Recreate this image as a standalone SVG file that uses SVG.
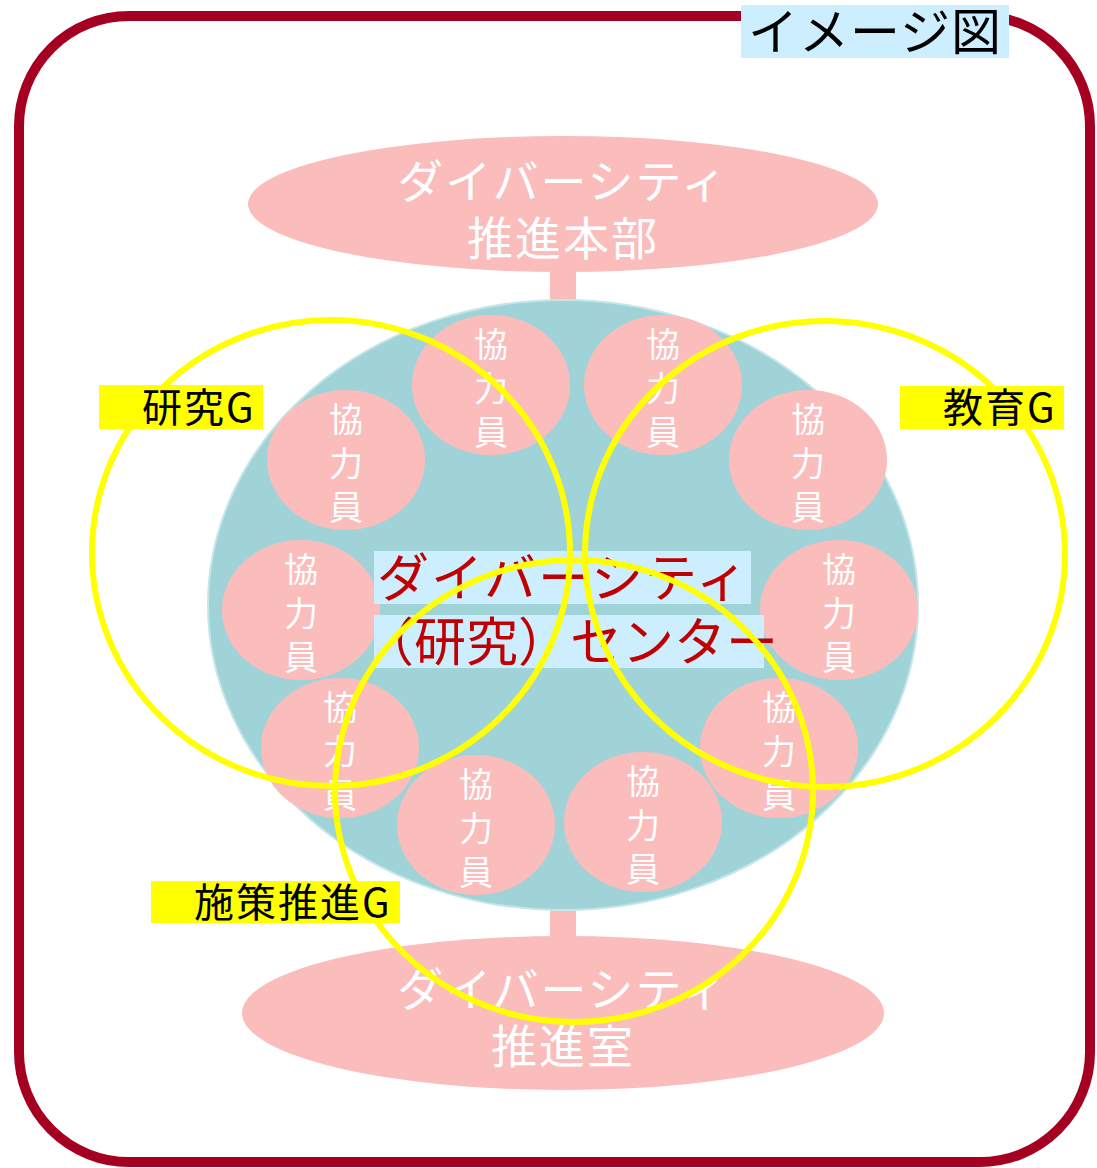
<svg xmlns="http://www.w3.org/2000/svg" width="1097" height="1168" viewBox="0 0 1097 1168">
<style>
.jp{font-family:"Noto Sans CJK JP","Noto Sans",sans-serif}
.pink{fill:#fbbcbc}
.mem{fill:#fbbcbc}
.memt{fill:#ffffff;font-size:34px;text-anchor:middle}
.ytext{fill:#000;font-size:40px;letter-spacing:2px}
.ycirc{fill:none;stroke:#ffff00;stroke-width:6}
.head{fill:#ffffff;font-size:46px;text-anchor:middle;letter-spacing:2px}
.red{fill:#c00000;font-size:52px}
</style>
<rect x="0" y="0" width="1097" height="1168" fill="#ffffff"/>
<g id="frame">
<rect x="19" y="16" width="1071" height="1146" rx="110" ry="110" fill="none" stroke="#a50021" stroke-width="10"/>
</g>
<g id="title">
<rect x="741" y="5" width="268" height="53" fill="#cceeff"/>
<text class="jp" x="875" y="50" font-size="50" letter-spacing="1" text-anchor="middle" fill="#000">イメージ図</text>
</g>
<g id="connectors">
<rect x="550" y="268" width="26" height="36" class="pink"/>
<rect x="550" y="906" width="26" height="36" class="pink"/>
</g>
<g id="center">
<ellipse cx="563" cy="605" rx="355" ry="305" fill="#a0d3d8" stroke="#c5e6e9" stroke-width="2"/>
</g>
<g id="honbu">
<ellipse cx="563" cy="204" rx="315" ry="68" class="pink"/>
<text class="jp head"><tspan x="563" y="198">ダイバーシティ</tspan><tspan x="563" y="255">推進本部</tspan></text>
</g>
<g id="suishinshitsu">
<ellipse cx="563" cy="1013" rx="321" ry="77" class="pink"/>
<text class="jp head"><tspan x="563" y="1006">ダイバーシティ</tspan><tspan x="563" y="1063">推進室</tspan></text>
</g>
<g id="members">
<g id="m1"><ellipse cx="491" cy="385" rx="79" ry="70" class="mem"/><text class="jp memt"><tspan x="491" y="357">協</tspan><tspan x="491" y="401">力</tspan><tspan x="491" y="445">員</tspan></text></g>
<g id="m2"><ellipse cx="663" cy="385" rx="79" ry="70" class="mem"/><text class="jp memt"><tspan x="663" y="357">協</tspan><tspan x="663" y="401">力</tspan><tspan x="663" y="445">員</tspan></text></g>
<g id="m3"><ellipse cx="346" cy="460" rx="79" ry="70" class="mem"/><text class="jp memt"><tspan x="346" y="432">協</tspan><tspan x="346" y="476">力</tspan><tspan x="346" y="520">員</tspan></text></g>
<g id="m4"><ellipse cx="808" cy="460" rx="79" ry="70" class="mem"/><text class="jp memt"><tspan x="808" y="432">協</tspan><tspan x="808" y="476">力</tspan><tspan x="808" y="520">員</tspan></text></g>
<g id="m5"><ellipse cx="301" cy="610" rx="79" ry="70" class="mem"/><text class="jp memt"><tspan x="301" y="582">協</tspan><tspan x="301" y="626">力</tspan><tspan x="301" y="670">員</tspan></text></g>
<g id="m6"><ellipse cx="839" cy="610" rx="79" ry="70" class="mem"/><text class="jp memt"><tspan x="839" y="582">協</tspan><tspan x="839" y="626">力</tspan><tspan x="839" y="670">員</tspan></text></g>
<g id="m7"><ellipse cx="340" cy="748" rx="79" ry="70" class="mem"/><text class="jp memt"><tspan x="340" y="720">協</tspan><tspan x="340" y="764">力</tspan><tspan x="340" y="808">員</tspan></text></g>
<g id="m8"><ellipse cx="779" cy="748" rx="79" ry="70" class="mem"/><text class="jp memt"><tspan x="779" y="720">協</tspan><tspan x="779" y="764">力</tspan><tspan x="779" y="808">員</tspan></text></g>
<g id="m9"><ellipse cx="476" cy="825" rx="79" ry="70" class="mem"/><text class="jp memt"><tspan x="476" y="797">協</tspan><tspan x="476" y="841">力</tspan><tspan x="476" y="885">員</tspan></text></g>
<g id="m10"><ellipse cx="643" cy="822" rx="79" ry="70" class="mem"/><text class="jp memt"><tspan x="643" y="794">協</tspan><tspan x="643" y="838">力</tspan><tspan x="643" y="882">員</tspan></text></g>
</g>
<g id="center-label">
<rect x="374" y="551" width="377" height="53" fill="#cceeff"/>
<rect x="374" y="615" width="390" height="53" fill="#cceeff"/>
<text class="jp red"><tspan x="377" y="597" letter-spacing="2">ダイバーシティ</tspan><tspan x="362" y="661">（研究）センター</tspan></text>
</g>
<g id="groups">
<ellipse cx="331" cy="553" rx="239" ry="233" class="ycirc"/>
<ellipse cx="825" cy="554" rx="240" ry="233" class="ycirc"/>
<ellipse cx="574" cy="791" rx="239" ry="231" class="ycirc"/>
</g>
<g id="label-kenkyu">
<rect x="99" y="385" width="164" height="44" fill="#ffff00"/>
<text class="jp ytext" x="142" y="422">研究G</text>
</g>
<g id="label-kyouiku">
<rect x="900" y="386" width="164" height="43" fill="#ffff00"/>
<text class="jp ytext" x="943" y="422">教育G</text>
</g>
<g id="label-shisaku">
<rect x="151" y="881" width="249" height="42" fill="#ffff00"/>
<text class="jp ytext" x="194" y="917">施策推進G</text>
</g>
</svg>
